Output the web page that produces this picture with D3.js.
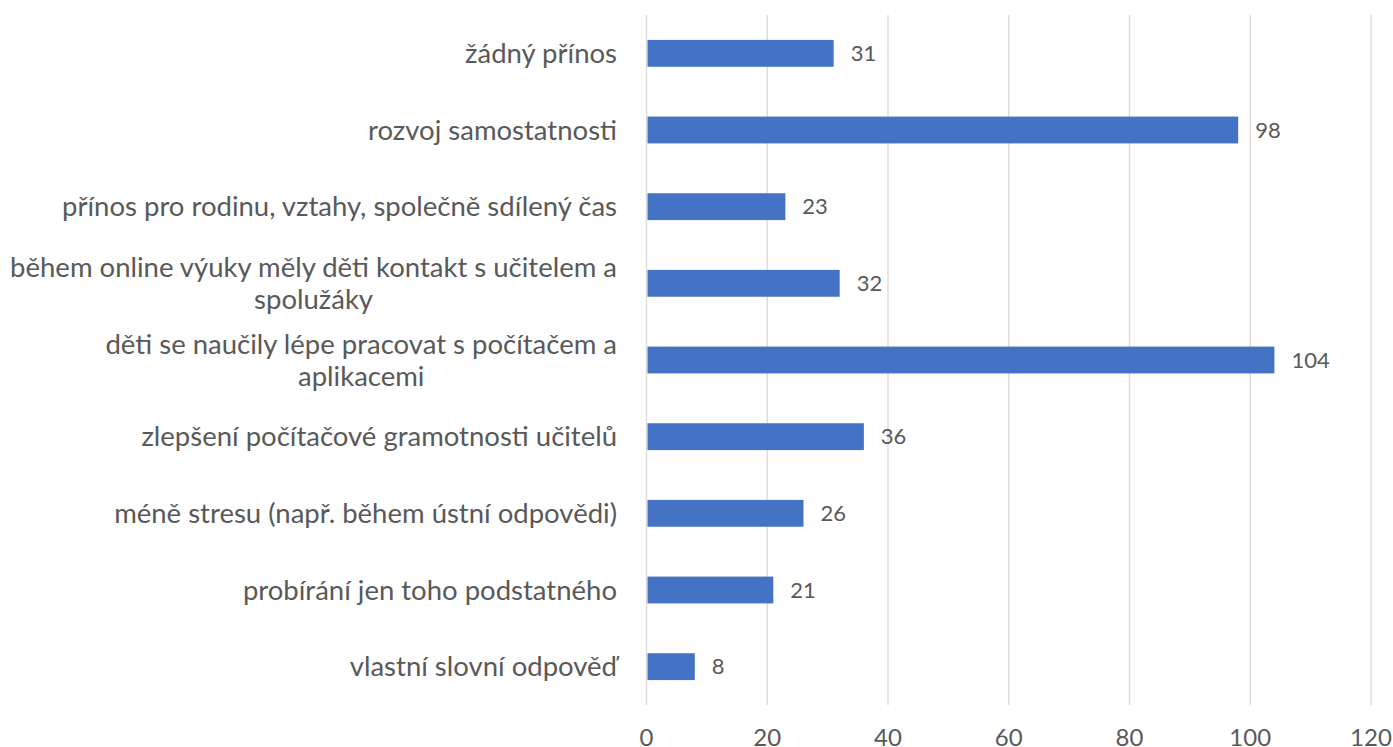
<!DOCTYPE html>
<html>
<head>
<meta charset="utf-8">
<script src="https://cdn.jsdelivr.net/npm/d3@7"></script>
<style>
  body { margin: 0; background: #fff; }
  svg text { font-family: Lato, "Open Sans", sans-serif; fill: #595959; }
</style>
</head>
<body>
<svg id="graphic" width="1393" height="747"></svg>
<script>
// categories top to bottom, each label split into its wrapped lines
var categories = [
  ["žádný přínos"],
  ["rozvoj samostatnosti"],
  ["přínos pro rodinu, vztahy, společně sdílený čas"],
  ["během online výuky měly děti kontakt s učitelem a", "spolužáky"],
  ["děti se naučily lépe pracovat s počítačem a", "aplikacemi"],
  ["zlepšení počítačové gramotnosti učitelů"],
  ["méně stresu (např. během ústní odpovědi)"],
  ["probírání jen toho podstatného"],
  ["vlastní slovní odpověď"]
];
var values = [31, 98, 23, 32, 104, 36, 26, 21, 8];
var xTicks = [0, 20, 40, 60, 80, 100, 120];

var svg = d3.select("#graphic");
var plotLeft = 646.5, plotRight = 1371, plotTop = 15, plotBottom = 705;

var x = d3.scaleLinear().domain([0, 120]).range([plotLeft, plotRight]);
var y = d3.scaleBand()
  .domain(d3.range(categories.length))
  .range([plotTop, plotBottom])
  .paddingInner(0.65)
  .paddingOuter(0.325);

// gridlines
svg.append("g")
  .selectAll("line")
  .data(xTicks)
  .enter()
  .append("line")
  .attr("x1", d => x(d))
  .attr("x2", d => x(d))
  .attr("y1", plotTop)
  .attr("y2", plotBottom)
  .attr("stroke", "#d9d9d9")
  .attr("stroke-width", 1.3);

// x axis labels
svg.append("g")
  .selectAll("text")
  .data(xTicks)
  .enter()
  .append("text")
  .attr("x", d => x(d))
  .attr("y", 746)
  .attr("text-anchor", "middle")
  .style("font-size", "24px")
  .text(d => d);

// bars
svg.append("g")
  .selectAll("rect")
  .data(values)
  .enter()
  .append("rect")
  .attr("x", x(0) + 1)
  .attr("y", (d, i) => y(i))
  .attr("width", d => x(d) - x(0) - 1)
  .attr("height", y.bandwidth())
  .attr("fill", "#4472c4");

// value labels
svg.append("g")
  .selectAll("text")
  .data(values)
  .enter()
  .append("text")
  .attr("x", d => x(d) + 17)
  .attr("y", (d, i) => y(i) + y.bandwidth() / 2)
  .attr("dy", "0.35em")
  .style("font-size", "22px")
  .text(d => d);

// category labels, wrapped lines centred inside a right-aligned block
var lineH = 32;
categories.forEach((lines, i) => {
  var cy = y(i) + y.bandwidth() / 2;
  var g = svg.append("g");
  var texts = lines.map((t, j) => g.append("text")
    .attr("y", cy + (j - (lines.length - 1) / 2) * lineH)
    .attr("dy", "0.35em")
    .attr("text-anchor", "middle")
    .style("font-size", "27.5px")
    .text(t));
  var w = d3.max(texts, t => t.node().getComputedTextLength());
  texts.forEach(t => t.attr("x", 617 - w / 2));
});
</script>
</body>
</html>
